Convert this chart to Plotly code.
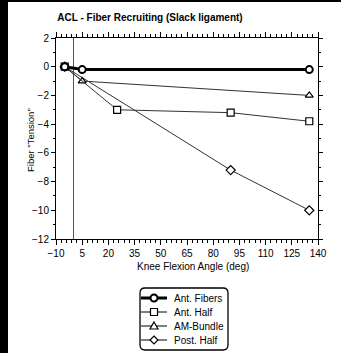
import plotly.graph_objects as go

W, H = 341, 353
L, R, T, B = 56, 23, 38, 114

x_fibers = [-5, 5, 135]
y_fibers = [0, -0.2, -0.2]
x_anthalf = [-5, 25, 90, 135]
y_anthalf = [0, -3.0, -3.2, -3.8]
x_am = [-5, 5, 135]
y_am = [0, -1.0, -2.0]
x_post = [-5, 90, 135]
y_post = [0, -7.2, -10.0]

series = [
    ("Ant. Fibers", x_fibers, y_fibers, "circle", 3, "#000000", 2),
    ("Ant. Half", x_anthalf, y_anthalf, "square", 1, "#333333", 1.2),
    ("AM-Bundle", x_am, y_am, "triangle-up", 1, "#333333", 1.2),
    ("Post. Half", x_post, y_post, "diamond", 1, "#333333", 1.2),
]

fig = go.Figure()
for name, xs, ys, sym, lw, col, mlw in reversed(series):
    fig.add_trace(go.Scatter(
        x=xs, y=ys, name=name, mode="lines+markers", showlegend=False,
        line=dict(color=col, width=lw),
        marker=dict(symbol=sym, size=7, color="white",
                    line=dict(color="#000000", width=mlw)),
    ))

fnt = "Liberation Sans, Arial, sans-serif"
pw = W - L - R
ph = H - T - B


def xp(px):
    return (px - L) / pw


def yp(py):
    return (T + ph - py) / ph


shapes = [
    dict(type="rect", xref="paper", yref="paper",
         x0=xp(0), x1=xp(8), y0=yp(H), y1=yp(0),
         fillcolor="#000000", line=dict(width=0), layer="above"),
    dict(type="rect", xref="paper", yref="paper",
         x0=xp(0), x1=xp(W), y0=yp(2), y1=yp(0),
         fillcolor="#000000", line=dict(width=0), layer="above"),
]
annotations = [
    dict(text="Knee Flexion Angle (deg)", xref="paper", yref="paper",
         x=xp(193), y=yp(266), showarrow=False, xanchor="center", yanchor="middle",
         font=dict(size=10, family=fnt)),
    dict(text='Fiber "Tension"', xref="paper", yref="paper", textangle=-90,
         x=xp(30), y=yp(140), showarrow=False, xanchor="center", yanchor="middle",
         font=dict(size=9.5, family=fnt)),
]

# manual legend (box with rounded corners)
bx0, bx1, by0, by1, rad = 140, 228, 288, 350, 5
path = (f"M {xp(bx0 + rad)},{yp(by0)} L {xp(bx1 - rad)},{yp(by0)} "
        f"Q {xp(bx1)},{yp(by0)} {xp(bx1)},{yp(by0 + rad)} L {xp(bx1)},{yp(by1 - rad)} "
        f"Q {xp(bx1)},{yp(by1)} {xp(bx1 - rad)},{yp(by1)} L {xp(bx0 + rad)},{yp(by1)} "
        f"Q {xp(bx0)},{yp(by1)} {xp(bx0)},{yp(by1 - rad)} L {xp(bx0)},{yp(by0 + rad)} "
        f"Q {xp(bx0)},{yp(by0)} {xp(bx0 + rad)},{yp(by0)} Z")
shapes.append(dict(type="path", xref="paper", yref="paper", path=path,
                   fillcolor="white", line=dict(color="#000000", width=1.3), layer="above"))

row0, row_gap = 298, 14
lx0, lx1, mx, tx = 141, 167, 154, 172
ms = 3.5
for i, (name, xs, ys, sym, lw, col, mlw) in enumerate(series):
    cy = row0 + i * row_gap
    shapes.append(dict(type="line", xref="paper", yref="paper",
                       x0=xp(lx0), x1=xp(lx1), y0=yp(cy), y1=yp(cy),
                       line=dict(color="#000000", width=lw), layer="above"))
    mline = dict(color="#000000", width=mlw)
    if sym == "circle":
        shapes.append(dict(type="circle", xref="paper", yref="paper",
                           x0=xp(mx - ms), x1=xp(mx + ms), y0=yp(cy + ms), y1=yp(cy - ms),
                           fillcolor="white", line=mline, layer="above"))
    elif sym == "square":
        shapes.append(dict(type="rect", xref="paper", yref="paper",
                           x0=xp(mx - ms), x1=xp(mx + ms), y0=yp(cy + ms), y1=yp(cy - ms),
                           fillcolor="white", line=mline, layer="above"))
    elif sym == "triangle-up":
        p = (f"M {xp(mx)},{yp(cy - ms - 0.5)} L {xp(mx + ms + 0.5)},{yp(cy + ms - 0.5)} "
             f"L {xp(mx - ms - 0.5)},{yp(cy + ms - 0.5)} Z")
        shapes.append(dict(type="path", xref="paper", yref="paper", path=p,
                           fillcolor="white", line=mline, layer="above"))
    else:
        p = (f"M {xp(mx)},{yp(cy - ms - 0.5)} L {xp(mx + ms + 0.5)},{yp(cy)} "
             f"L {xp(mx)},{yp(cy + ms + 0.5)} L {xp(mx - ms - 0.5)},{yp(cy)} Z")
        shapes.append(dict(type="path", xref="paper", yref="paper", path=p,
                           fillcolor="white", line=mline, layer="above"))
    annotations.append(dict(text=name, xref="paper", yref="paper",
                            x=xp(tx), y=yp(cy), showarrow=False,
                            xanchor="left", yanchor="middle",
                            font=dict(size=10, family=fnt)))

fig.update_layout(
    width=W, height=H,
    margin=dict(l=L, r=R, t=T, b=B, autoexpand=False),
    paper_bgcolor="white", plot_bgcolor="white",
    font=dict(family=fnt, size=10, color="#000000"),
    title=dict(text="<b>ACL - Fiber Recruiting (Slack ligament)</b>",
               x=xp(150), xanchor="center", xref="paper", y=1 - 17 / H, yanchor="middle",
               font=dict(size=10, family=fnt)),
    showlegend=False,
    xaxis=dict(range=[-10, 140], tickmode="linear", tick0=-10, dtick=15, automargin=False,
               showgrid=False, showline=True, linecolor="#000000", linewidth=1,
               mirror="ticks", ticks="outside", ticklen=5, tickcolor="#000000",
               zeroline=True, zerolinecolor="#555555", zerolinewidth=1,
               minor=dict(dtick=3, tick0=-10, ticks="outside", ticklen=3, tickcolor="#000000", showgrid=False),
               tickfont=dict(size=10, family=fnt)),
    yaxis=dict(range=[-12, 2], tickmode="linear", tick0=-12, dtick=2, automargin=False,
               showgrid=False, showline=True, linecolor="#000000", linewidth=1,
               mirror="ticks", ticks="outside", ticklen=4, tickcolor="#000000",
               zeroline=False,
               minor=dict(dtick=1, tick0=-12, ticks="outside", ticklen=2, tickcolor="#000000", showgrid=False),
               tickfont=dict(size=10, family=fnt)),
    shapes=shapes,
    annotations=annotations,
)

fig.write_html("out.html", config={"displayModeBar": False},
               post_script="document.body.style.margin='0';document.body.style.overflow='hidden';")
